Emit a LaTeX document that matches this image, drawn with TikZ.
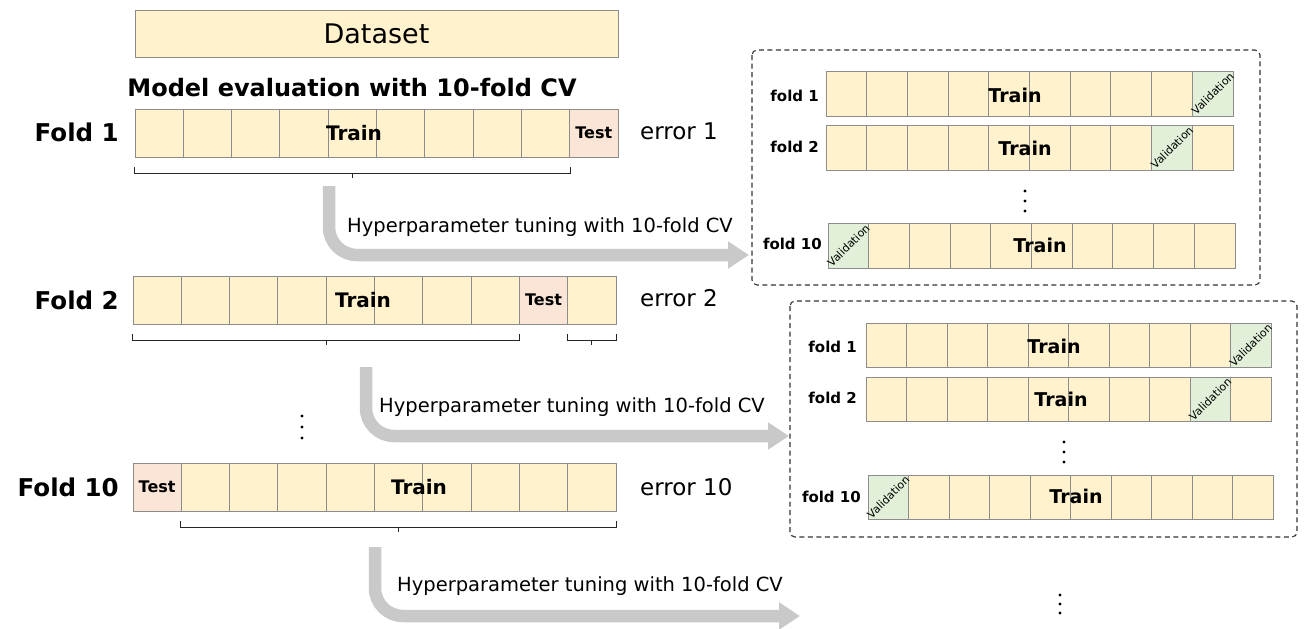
\documentclass[tikz,border=0pt]{standalone}
\usepackage{fontspec}
\setmainfont{DejaVu Sans}
\usetikzlibrary{arrows.meta,calc}
\definecolor{trainc}{HTML}{FFF2CC}
\definecolor{testc}{HTML}{FBE5D6}
\definecolor{valc}{HTML}{E2F0D9}
\definecolor{cellb}{HTML}{8C8C8C}
\definecolor{arrowc}{HTML}{C9C9C9}
\definecolor{dboxc}{HTML}{333333}
\newcommand{\myfs}[1]{\fontsize{#1}{#1}\selectfont}
\tikzset{
  cellbase/.style={draw=cellb, line width=0.9pt, inner sep=0pt, rectangle},
  foldlbl/.style={anchor=east, font=\bfseries\myfs{24.5}, inner sep=0pt},
  infold/.style={anchor=east, font=\bfseries\myfs{15}, inner sep=0pt},
  trainlbl/.style={font=\bfseries\myfs{20}, inner sep=0pt},
  intrain/.style={font=\bfseries\myfs{19}, inner sep=0pt},
  testlbl/.style={font=\bfseries\myfs{16}, inner sep=0pt},
  vallbl/.style={font=\myfs{11}, rotate=45, inner sep=0pt},
  errlbl/.style={anchor=west, font=\myfs{23}, inner sep=0pt},
  hyplbl/.style={anchor=west, font=\myfs{19.5}, inner sep=0pt},
  brc/.style={draw=black!85, line width=0.8pt},
  bigarrow/.style={draw=arrowc, line width=12.5pt, rounded corners=28pt,
    -{Triangle[width=26pt,length=21pt]}},
  dbox/.style={draw=dboxc, line width=1.1pt, dash pattern=on 5pt off 3.5pt, rounded corners=5pt},
  dotn/.style={circle, fill=black, inner sep=0pt, minimum size=3.4pt},
}
% #1 prefix, #2 x0, #3 y0, #4 cell width, #5 height, #6 special index, #7 special colour
\newcommand{\cvrow}[7]{%
  \foreach \i in {1,...,10}{%
    \ifnum\i=#6 \def\fillc{#7}\else\def\fillc{trainc}\fi
    \node[cellbase, fill=\fillc, minimum width=#4, minimum height=#5] (#1-c\i)
      at ({#2+(\i-0.5)*#4}, {#3+#5/2}) {};
  }}
\newcommand{\cvbrace}[3]{%
  \draw[brc] ([yshift=-10pt]#1.south west) -- ([yshift=-16pt]#1.south west)
    -- ([yshift=-16pt]#2.south east) -- ([yshift=-10pt]#2.south east);
  \draw[brc] ($([yshift=-16pt]#1.south west)!0.5!([yshift=-16pt]#2.south east)$)
    coordinate (#3) -- ++(0,-5pt);}
\begin{document}
\begin{tikzpicture}[x=1pt, y=-1pt]
\useasboundingbox (0,0) rectangle (1307,629);

% dataset
\node[cellbase, fill=trainc, minimum width=483, minimum height=47, font=\myfs{27}]
  (ds) at (376.5,33.5) {Dataset};
\node[font=\bfseries\myfs{24}, inner sep=0pt] (title) at (352,88) {Model evaluation with 10-fold CV};

% outer folds
\cvrow{f1}{135}{109}{48.3}{48}{10}{testc}
\cvrow{f2}{133}{276}{48.3}{48}{9}{testc}
\cvrow{f10}{133}{463}{48.3}{48}{1}{testc}

\node[trainlbl] (f1t) at (354,133) {Train};
\node[trainlbl] (f2t) at (363,300) {Train};
\node[trainlbl] (f10t) at (419,487) {Train};
\node[testlbl] (f1x) at (f1-c10) {Test};
\node[testlbl] (f2x) at (f2-c9) {Test};
\node[testlbl] (f10x) at (f10-c1) {Test};

\node[foldlbl] (L1) at (119,132) {Fold 1};
\node[foldlbl] (L2) at (119,300) {Fold 2};
\node[foldlbl] (L10) at (119,487) {Fold 10};
\node[errlbl] (e1) at (640,131) {error 1};
\node[errlbl] (e2) at (640,298) {error 2};
\node[errlbl] (e10) at (640,487) {error 10};

\cvbrace{f1-c1}{f1-c9}{b1}
\cvbrace{f2-c1}{f2-c8}{b2}
\cvbrace{f2-c10}{f2-c10}{b2b}
\cvbrace{f10-c2}{f10-c10}{b10}

% vertical dots between folds
\node[dotn] (vd1) at (302,416) {};
\node[dotn] (vd2) at (302,427) {};
\node[dotn] (vd3) at (302,438) {};

% arrows
\coordinate (a1s) at (329,186);
\coordinate (a1e) at (749,255);
\coordinate (a2s) at (366,367);
\coordinate (a2e) at (789,436);
\coordinate (a3s) at (375,547);
\coordinate (a3e) at (800,616);
\draw[bigarrow] (a1s) |- (a1e);
\draw[bigarrow] (a2s) |- (a2e);
\draw[bigarrow] (a3s) |- (a3e);
\node[hyplbl] (h1) at (347,227) {Hyperparameter tuning with 10-fold CV};
\node[hyplbl] (h2) at (379,407) {Hyperparameter tuning with 10-fold CV};
\node[hyplbl] (h3) at (397,586) {Hyperparameter tuning with 10-fold CV};

% inner box 1
\draw[dbox] (752,50) rectangle (1260,285);
\cvrow{p1}{826}{71}{40.7}{45}{10}{valc}
\cvrow{p2}{826}{125}{40.7}{45}{9}{valc}
\cvrow{p10}{828}{223}{40.7}{45}{1}{valc}
\node[intrain] (p1t) at (1015,95) {Train};
\node[intrain] (p2t) at (1025,148) {Train};
\node[intrain] (p10t) at (1040,245) {Train};
\node[vallbl] (p1v) at (p1-c10) {Validation};
\node[vallbl] (p2v) at (p2-c9) {Validation};
\node[vallbl] (p10v) at (p10-c1) {Validation};
\node[infold] (pl1) at (819,96) {fold 1};
\node[infold] (pl2) at (819,147) {fold 2};
\node[infold] (pl10) at (822,244) {fold 10};
\node[dotn] (pd1) at (1025,191) {};
\node[dotn] (pd2) at (1025,201) {};
\node[dotn] (pd3) at (1025,211) {};

% inner box 2
\draw[dbox] (790,301) rectangle (1297,537);
\cvrow{q1}{866}{323}{40.5}{44}{10}{valc}
\cvrow{q2}{866}{377}{40.5}{44}{9}{valc}
\cvrow{q10}{868}{475}{40.5}{44}{1}{valc}
\node[intrain] (q1t) at (1054,346) {Train};
\node[intrain] (q2t) at (1061,399) {Train};
\node[intrain] (q10t) at (1076,496) {Train};
\node[vallbl] (q1v) at (q1-c10) {Validation};
\node[vallbl] (q2v) at (q2-c9) {Validation};
\node[vallbl] (q10v) at (q10-c1) {Validation};
\node[infold] (ql1) at (857,347) {fold 1};
\node[infold] (ql2) at (857,398) {fold 2};
\node[infold] (ql10) at (861,497) {fold 10};
\node[dotn] (qd1) at (1064,442) {};
\node[dotn] (qd2) at (1064,452) {};
\node[dotn] (qd3) at (1064,462) {};

% bottom dots
\node[dotn] (bd1) at (1060,595) {};
\node[dotn] (bd2) at (1060,604) {};
\node[dotn] (bd3) at (1060,613) {};
\end{tikzpicture}
\end{document}
